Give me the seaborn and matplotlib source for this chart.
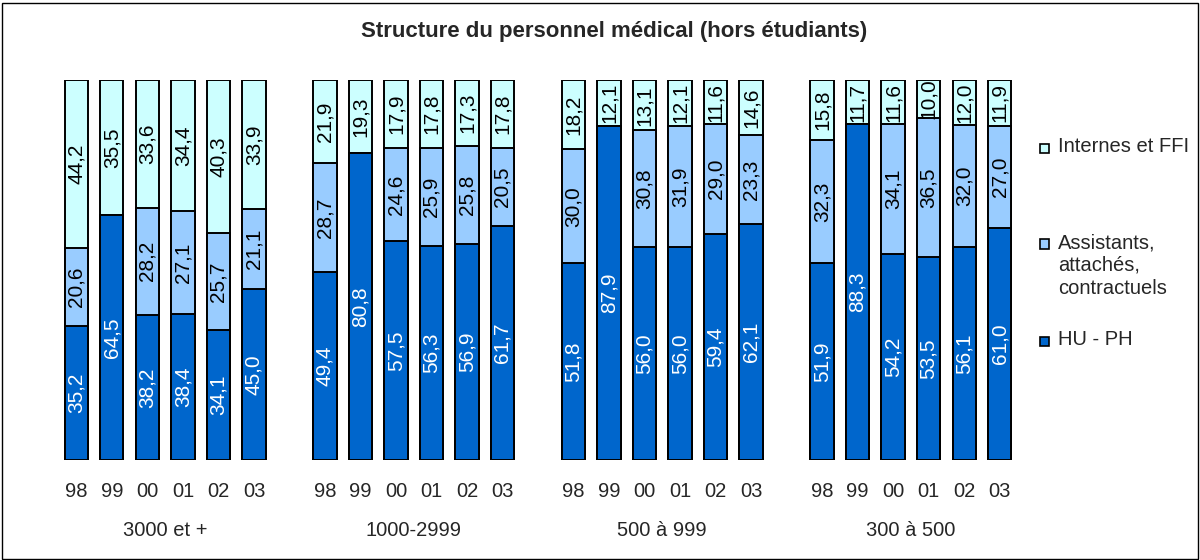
#!/usr/bin/env python3
"""Stacked 100% bars: structure du personnel medical par taille d'etablissement."""

import matplotlib
matplotlib.use("Agg")
import matplotlib.pyplot as plt
import matplotlib.transforms as mtransforms
from matplotlib.patches import Rectangle
import numpy as np
import pandas as pd
import seaborn as sns

TITLE = "Structure du personnel médical (hors étudiants)"
GROUPS = ["3000 et +", "1000-2999", "500 à 999", "300 à 500"]
YEARS = ["98", "99", "00", "01", "02", "03"]
SERIES = ["HU - PH", "Assistants,\nattachés,\ncontractuels", "Internes et FFI"]

# values per group, in year order 98..03
HU_PH = [
    [35.2, 64.5, 38.2, 38.4, 34.1, 45.0],
    [49.4, 80.8, 57.5, 56.3, 56.9, 61.7],
    [51.8, 87.9, 56.0, 56.0, 59.4, 62.1],
    [51.9, 88.3, 54.2, 53.5, 56.1, 61.0],
]
ASSISTANTS = [
    [20.6, 0.0, 28.2, 27.1, 25.7, 21.1],
    [28.7, 0.0, 24.6, 25.9, 25.8, 20.5],
    [30.0, 0.0, 30.8, 31.9, 29.0, 23.3],
    [32.3, 0.0, 34.1, 36.5, 32.0, 27.0],
]
INTERNES = [
    [44.2, 35.5, 33.6, 34.4, 40.3, 33.9],
    [21.9, 19.3, 17.9, 17.8, 17.3, 17.8],
    [18.2, 12.1, 13.1, 12.1, 11.6, 14.6],
    [15.8, 11.7, 11.6, 10.0, 12.0, 11.9],
]

COLORS = ["#0066CC", "#99CCFF", "#CCFFFF"]
TEXT_COLORS = ["white", "black", "black"]
FS = 14.5
FS_VAL = 15
FS_TITLE = 16


def fmt(v):
    return f"{v:.1f}".replace(".", ",")


def main():
    sns.set_style("white")
    plt.rcParams["font.family"] = ["Liberation Sans", "DejaVu Sans"]

    rows = []
    for g, grp in enumerate(GROUPS):
        for i, yr in enumerate(YEARS):
            rows.append({
                "pos": g * (len(YEARS) + 1) + i,
                "year": yr,
                "group": grp,
                "hu": HU_PH[g][i],
                "ass": ASSISTANTS[g][i],
                "int": INTERNES[g][i],
            })
    df = pd.DataFrame(rows)
    df["c1"] = df["hu"]
    df["c2"] = df["hu"] + df["ass"]
    df["c3"] = df["c2"] + df["int"]

    fig = plt.figure(figsize=(12, 5.6), dpi=100)
    ax = fig.add_axes([44.5 / 1200, 100 / 560, 987 / 1200, 380 / 560])

    # draw cumulative layers, tallest first so lower segments sit on top
    for col, color in zip(["c3", "c2", "c1"], COLORS[::-1]):
        sns.barplot(data=df, x="pos", y=col, native_scale=True, width=0.65,
                    color=color, edgecolor="black", linewidth=1.4,
                    saturation=1, ax=ax)

    # value labels
    for _, r in df.iterrows():
        bottoms = [0, r["c1"], r["c2"]]
        for val, b, tc in zip([r["hu"], r["ass"], r["int"]], bottoms, TEXT_COLORS):
            if val <= 0:
                continue
            ax.text(r["pos"], b + val / 2, fmt(val), rotation=90,
                    ha="center", va="center", fontsize=FS_VAL, color=tc)

    ax.set_xlim(-0.9, df["pos"].max() + 0.9)
    ax.set_ylim(0, 100)
    ax.set_xticks(df["pos"])
    ax.set_xticklabels(df["year"], fontsize=FS)
    ax.tick_params(axis="x", length=0, pad=16)
    ax.set_yticks([])
    ax.set_xlabel("")
    ax.set_ylabel("")
    for s in ax.spines.values():
        s.set_visible(False)

    # group labels under the year ticks
    trans = mtransforms.blended_transform_factory(ax.transData, ax.transAxes)
    for grp, sub in df.groupby("group", sort=False):
        ax.text(sub["pos"].mean(), -0.186, grp, transform=trans,
                ha="center", va="center", fontsize=FS)

    fig.text(614 / 1200, 1 - 31 / 560, TITLE, ha="center", va="center",
             fontsize=FS_TITLE, fontweight="bold")

    # legend (manual, to match multi-line spacing)
    leg_items = [
        (COLORS[2], SERIES[2], 148),
        (COLORS[1], SERIES[1], 244),
        (COLORS[0], SERIES[0], 341),
    ]
    for color, label, ypx in leg_items:
        fig.add_artist(Rectangle((1040 / 1200, 1 - (ypx + 4.5) / 560),
                                 9 / 1200, 9 / 560, transform=fig.transFigure,
                                 facecolor=color, edgecolor="black", linewidth=1.2))
        fig.text(1058 / 1200, 1 - (ypx - 11) / 560, label, ha="left", va="top",
                 fontsize=FS, linespacing=1.25)

    # outer frame
    fig.add_artist(Rectangle((1.5 / 1200, 1.5 / 560), 1196 / 1200, 556 / 560,
                             transform=fig.transFigure, fill=False,
                             edgecolor="black", linewidth=1))

    fig.savefig("out.png", dpi=100)
    plt.close(fig)


if __name__ == "__main__":
    main()
